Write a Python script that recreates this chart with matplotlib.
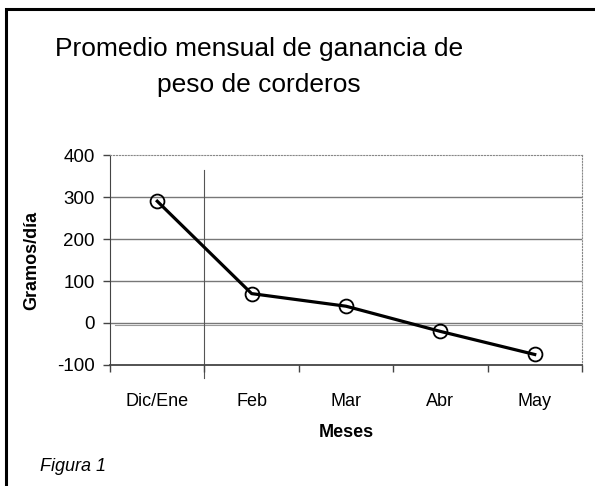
import matplotlib
matplotlib.use("Agg")
import matplotlib.pyplot as plt
from matplotlib.patches import Rectangle

meses = ["Dic/Ene", "Feb", "Mar", "Abr", "May"]
ganancia = [290, 70, 40, -20, -75]
yticks = [-100, 0, 100, 200, 300, 400]

plt.rcParams['font.family'] = ['Liberation Sans', 'DejaVu Sans']
plt.rcParams['axes.unicode_minus'] = False

fig = plt.figure(figsize=(5.95, 4.86), dpi=100)
ax = fig.add_axes([0.185, 0.249, 0.793, 0.432])

x = list(range(len(meses)))
ax.plot(x, ganancia, color="black", lw=2.3, marker="o", ms=10,
        mfc="none", mec="black", mew=1.3, zorder=5)

ax.set_xlim(-0.5, len(meses) - 0.5)
ax.set_ylim(-100, 400)
ax.set_yticks(yticks)
ax.set_xticks(x)
ax.set_xticklabels(meses, fontsize=13)
ax.set_xticks([i - 0.5 for i in range(len(meses) + 1)], minor=True)
ax.tick_params(axis="x", which="major", length=0, pad=20)
ax.tick_params(axis="x", which="minor", length=5, width=1, color="#444")
ax.tick_params(axis="y", length=5, width=1, color="#444", pad=6, labelsize=13.5)

for v in yticks[1:-1]:
    ax.axhline(v, color="#777", lw=1, zorder=1)
ax.axhline(-5, xmin=0.01, color="#999", lw=0.8, zorder=1)
ax.axvline(0.5, ymin=-0.06, ymax=0.93, color="#555", lw=0.8, clip_on=False, zorder=1)

ax.spines["top"].set_color("#888")
ax.spines["top"].set_linestyle(":")
ax.spines["right"].set_color("#888")
ax.spines["right"].set_linestyle(":")
ax.spines["left"].set_color("#444")
ax.spines["bottom"].set_color("#444")
ax.spines["bottom"].set_linewidth(1.3)

ax.set_ylabel("Gramos/día", fontsize=13, fontweight="bold", labelpad=12)
ax.set_xlabel("Meses", fontsize=13, fontweight="bold", labelpad=10)

fig.text(0.435, 0.862, "Promedio mensual de ganancia de\npeso de corderos",
         ha="center", va="center", fontsize=19, linespacing=1.65)
fig.text(0.068, 0.04, "Figura 1", fontsize=13, style="italic", ha="left", va="center")

fig.patches.append(Rectangle((0.01, -0.1), 1.2, 1.082, transform=fig.transFigure,
                             fill=False, edgecolor="black", lw=2.2))

fig.savefig("out.png", dpi=100)
